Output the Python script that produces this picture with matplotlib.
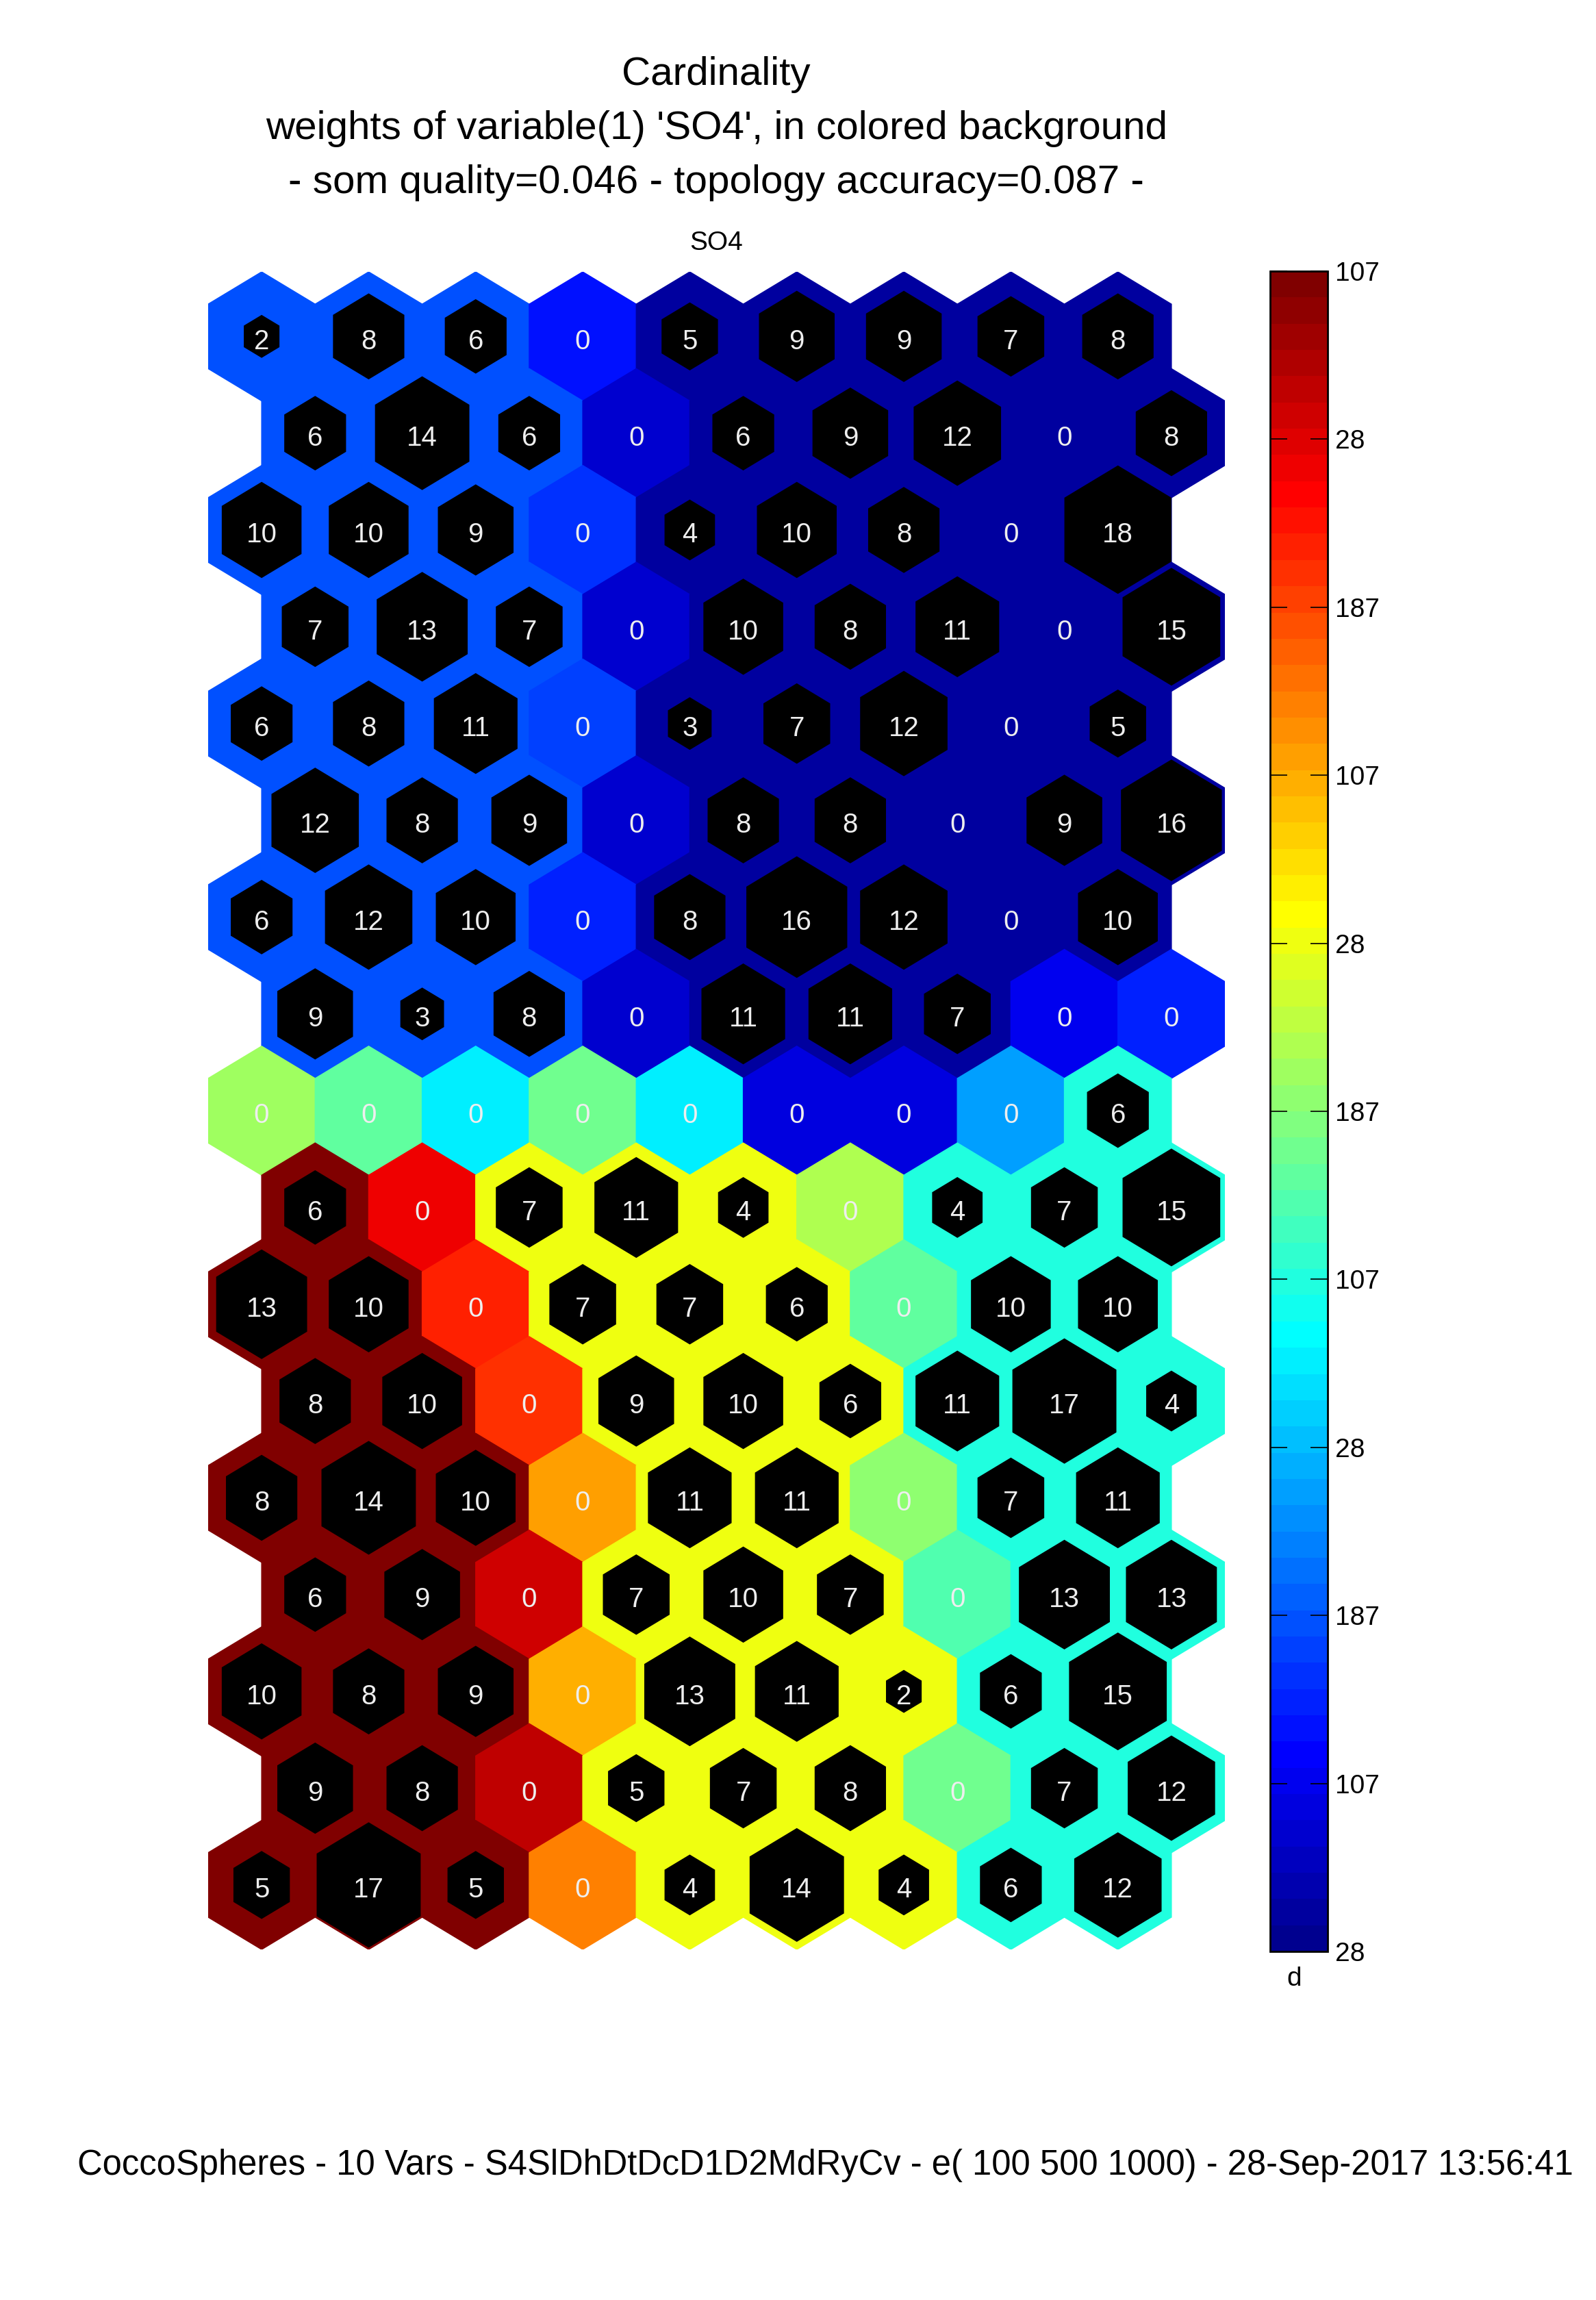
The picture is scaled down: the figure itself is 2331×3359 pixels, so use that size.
import numpy as np
import matplotlib
matplotlib.use('Agg')
import matplotlib.pyplot as plt
from matplotlib.patches import RegularPolygon
from matplotlib.colors import ListedColormap, Normalize
from matplotlib.cm import ScalarMappable

plt.rcParams['font.family'] = ['Liberation Sans', 'DejaVu Sans']

# hits per SOM unit (17 rows x 9 cols, hexagonal, odd rows shifted right)
hits = [
  [2, 8, 6, 0, 5, 9, 9, 7, 8],
  [6, 14, 6, 0, 6, 9, 12, 0, 8],
  [10, 10, 9, 0, 4, 10, 8, 0, 18],
  [7, 13, 7, 0, 10, 8, 11, 0, 15],
  [6, 8, 11, 0, 3, 7, 12, 0, 5],
  [12, 8, 9, 0, 8, 8, 0, 9, 16],
  [6, 12, 10, 0, 8, 16, 12, 0, 10],
  [9, 3, 8, 0, 11, 11, 7, 0, 0],
  [0, 0, 0, 0, 0, 0, 0, 0, 6],
  [6, 0, 7, 11, 4, 0, 4, 7, 15],
  [13, 10, 0, 7, 7, 6, 0, 10, 10],
  [8, 10, 0, 9, 10, 6, 11, 17, 4],
  [8, 14, 10, 0, 11, 11, 0, 7, 11],
  [6, 9, 0, 7, 10, 7, 0, 13, 13],
  [10, 8, 9, 0, 13, 11, 2, 6, 15],
  [9, 8, 0, 5, 7, 8, 0, 7, 12],
  [5, 17, 5, 0, 4, 14, 4, 6, 12],
]

# SO4 weight of each unit, as colormap level (0..63)
so4_level = [
  [12, 12, 12, 8, 1, 1, 1, 1, 1],
  [12, 12, 12, 4, 1, 1, 1, 1, 1],
  [12, 12, 12, 10, 1, 1, 1, 1, 1],
  [12, 12, 12, 4, 1, 1, 1, 1, 1],
  [12, 12, 12, 11, 1, 1, 1, 1, 1],
  [12, 12, 12, 4, 1, 1, 1, 1, 1],
  [12, 12, 12, 9, 1, 1, 1, 1, 1],
  [12, 12, 12, 4, 1, 1, 1, 6, 9],
  [33, 29, 22, 30, 22, 5, 5, 17, 25],
  [63, 56, 38, 38, 38, 34, 25, 25, 25],
  [63, 63, 53, 38, 38, 38, 29, 25, 25],
  [63, 63, 52, 38, 38, 38, 25, 25, 25],
  [63, 63, 63, 45, 38, 38, 32, 25, 25],
  [63, 63, 58, 38, 38, 38, 28, 25, 25],
  [63, 63, 63, 44, 38, 38, 38, 25, 25],
  [63, 63, 59, 38, 38, 38, 30, 25, 25],
  [63, 63, 63, 47, 38, 38, 38, 25, 25],
]

cbar_labels = ['28', '107', '187', '28', '107', '187', '28', '107', '187', '28', '107']

title_lines = ['Cardinality',
               "weights of variable(1) 'SO4', in colored background",
               '- som quality=0.046 - topology accuracy=0.087 -']
footer = 'CoccoSpheres - 10 Vars - S4SlDhDtDcD1D2MdRyCv - e( 100 500 1000) - 28-Sep-2017 13:56:41'


def matlab_jet(n=64):
  m = n // 4
  u = np.concatenate([np.arange(1, m + 1) / m, np.ones(m - 1), np.arange(m, 0, -1) / m])
  g = int(np.ceil(m / 2)) - (n % 4 == 1) + np.arange(1, len(u) + 1)
  r = g + m
  b = g - m
  J = np.zeros((n, 3))
  J[r[r <= n] - 1, 0] = u[r <= n]
  J[g[g <= n] - 1, 1] = u[g <= n]
  J[b[b >= 1] - 1, 2] = u[b >= 1]
  return J


jet = matlab_jet(64)
cmap = ListedColormap(jet)

hits = np.array(hits)
so4_level = np.array(so4_level)
nrows, ncols = hits.shape
max_hits = hits.max()
R = 1 / np.sqrt(3)  # hex circumradius for unit spacing

fig = plt.figure(figsize=(23.31, 33.59), dpi=100)
ax = fig.add_axes([0.1304, 0.1524, 0.6371, 0.7294])

for i in range(nrows):
  for j in range(ncols):
    x = j + 0.5 * (i % 2)
    y = i * np.sqrt(3) / 2
    c = jet[so4_level[i, j]]
    ax.add_patch(RegularPolygon((x, y), 6, radius=R, orientation=0,
                                facecolor=c, edgecolor=c, linewidth=1))
    s = np.sqrt(hits[i, j] / max_hits)
    if s > 0:
      ax.add_patch(RegularPolygon((x, y), 6, radius=R * s, orientation=0,
                                  facecolor='black', edgecolor='none'))
    # labels sit a little below the cell centre, like the original
    ax.text(x, y + 0.045, str(hits[i, j]), color='#eeeeee', fontsize=29,
            ha='center', va='center')

ax.set_xlim(-0.5, 9.0)
ax.set_ylim((nrows - 1) * np.sqrt(3) / 2 + R, -R)
ax.set_aspect('auto')
ax.axis('off')

# colorbar
cax = fig.add_axes([0.7958, 0.1515, 0.0360, 0.7306])
cb = fig.colorbar(ScalarMappable(norm=Normalize(0, 64), cmap=cmap), cax=cax)
cb.set_ticks(np.linspace(0, 64, len(cbar_labels)))
cb.set_ticklabels(cbar_labels)
cb.outline.set_linewidth(2)
cax.tick_params(axis='y', which='both', direction='in', length=18, width=1.2,
                left=True, right=True, labelsize=28, pad=8)
cax.minorticks_off()
fig.text(0.8108, 1 - 2890 / 3359, 'd', fontsize=28, ha='center', va='center')

# titles
for k, line in enumerate(title_lines):
  fig.text(0.4488, 1 - (109 + 79 * k) / 3359, line, fontsize=42, ha='center', va='center')
fig.text(0.4488, 1 - 355 / 3359, 'SO4', fontsize=28, ha='center', va='center')
fig.text(0.517, 1 - 3162 / 3359, footer, fontsize=36.5, ha='center', va='center')

fig.savefig('out.png', dpi=100)
